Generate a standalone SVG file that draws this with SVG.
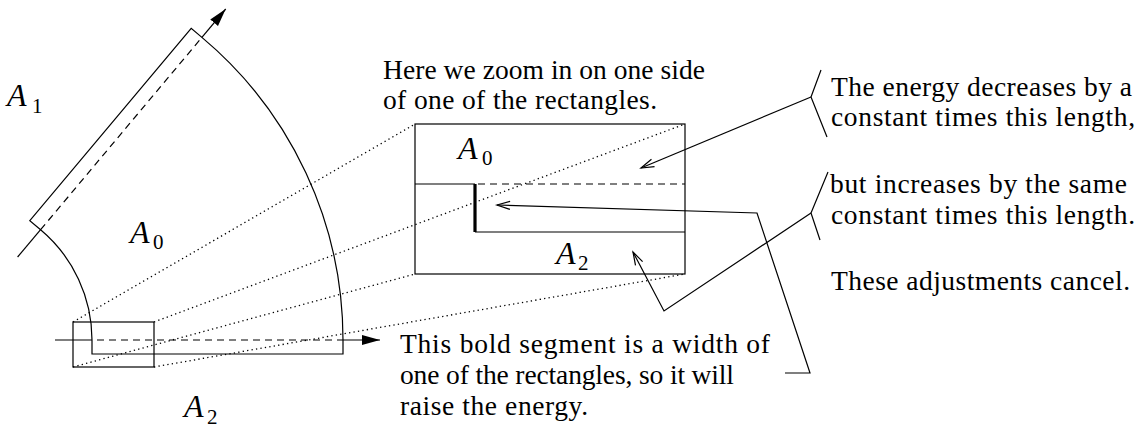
<svg xmlns="http://www.w3.org/2000/svg" width="1143" height="427" viewBox="0 0 1143 427">
<defs>
<marker id="filled" markerUnits="userSpaceOnUse" markerWidth="20" markerHeight="12" refX="18" refY="5" orient="auto">
<path d="M0,0 L18,5 L0,10 Z" fill="#000"/>
</marker>
<marker id="open" markerUnits="userSpaceOnUse" markerWidth="16" markerHeight="12" refX="13" refY="6" orient="auto" overflow="visible">
<path d="M0,2 L13,6 L0,10" fill="none" stroke="#000" stroke-width="1.2"/>
</marker>
</defs>
<style>
.ln{fill:none;stroke:#000;stroke-width:1.2}
.dash{fill:none;stroke:#000;stroke-width:1.2;stroke-dasharray:7 5}
.dot{fill:none;stroke:#000;stroke-width:1.3;stroke-dasharray:1.3 3.2}
.bold{fill:none;stroke:#000;stroke-width:3.2}
text{font-family:'Liberation Serif','DejaVu Serif','Times New Roman',serif;fill:#000}
.t{font-size:27.5px}
.m{font-size:32px;font-style:italic}
.s{font-size:21px}
</style>
<rect width="1143" height="427" fill="#fff"/>

<g id="region">
<path class="ln" d="M92,340 L92,354 L343,354 L343,340 A395,395 0 0 0 201.9,37.4 L191.2,28.4 L29.8,220.7 L40.6,229.7 A144,144 0 0 1 92,340 Z"/>
</g>

<g id="axes">
<line class="ln" x1="55" y1="340" x2="92" y2="340"/>
<line class="dash" x1="97" y1="340" x2="343" y2="340"/>
<line class="ln" x1="343" y1="340" x2="380" y2="340" marker-end="url(#filled)"/>
<line class="ln" x1="17.6" y1="257" x2="40.6" y2="229.7" stroke="#555"/>
<line class="dash" x1="40.6" y1="229.7" x2="201.9" y2="37.4"/>
<line class="ln" x1="201.9" y1="37.4" x2="225.7" y2="9" marker-end="url(#filled)"/>
</g>

<g id="zoom-box-small">
<rect class="ln" x="73" y="322" width="81" height="45"/>
</g>

<g id="zoom-box-large">
<rect class="ln" x="415" y="124" width="270" height="150"/>
<line class="ln" x1="415" y1="184" x2="475" y2="184"/>
<line class="dash" x1="478" y1="184" x2="685" y2="184"/>
<line class="bold" x1="475" y1="184" x2="475" y2="232"/>
<line class="ln" x1="475" y1="232" x2="685" y2="232"/>
</g>

<g id="zoom-lines">
<line class="dot" x1="73" y1="322" x2="415" y2="124"/>
<line class="dot" x1="154" y1="322" x2="685" y2="124"/>
<line class="dot" x1="73" y1="367" x2="415" y2="274"/>
<line class="dot" x1="154" y1="367" x2="685" y2="274"/>
</g>

<g id="labels">
<text class="m" x="7" y="106">A</text><text class="s" x="32" y="113">1</text>
<text class="m" x="130" y="243">A</text><text class="s" x="153" y="249">0</text>
<text class="m" x="184" y="417">A</text><text class="s" x="207" y="424">2</text>
<text class="m" x="458" y="159">A</text><text class="s" x="482" y="165">0</text>
<text class="m" x="556" y="264">A</text><text class="s" x="578" y="270">2</text>
</g>

<g id="note-zoom">
<text class="t" x="383" y="79" textLength="322">Here we zoom in on one side</text>
<text class="t" x="383" y="109" textLength="274">of one of the rectangles.</text>
</g>

<g id="note-decrease">
<path class="ln" d="M821,70 L811,97 L827,137"/>
<text class="t" x="831" y="96" textLength="301">The energy decreases by a</text>
<text class="t" x="831" y="126" textLength="304">constant times this length,</text>
</g>

<g id="note-increase">
<path class="ln" d="M828,172 L811,213 L820,240"/>
<text class="t" x="830" y="193" textLength="297">but increases by the same</text>
<text class="t" x="831" y="224" textLength="304">constant times this length.</text>
</g>

<g id="note-cancel">
<text class="t" x="831" y="290" textLength="299">These adjustments cancel.</text>
</g>

<g id="note-bold">
<text class="t" x="400" y="353" textLength="370">This bold segment is a width of</text>
<text class="t" x="400" y="384" textLength="334">one of the rectangles, so it will</text>
<text class="t" x="400" y="415" textLength="188">raise the energy.</text>
</g>

<g id="connectors">
<path class="ln" d="M811,97 L641,168" marker-end="url(#open)"/>
<path class="ln" d="M811,213 L664,311 L633,252" marker-end="url(#open)"/>
<path class="ln" d="M785,373 L810,373 L757,213 L497,205" marker-end="url(#open)"/>
</g>
</svg>
